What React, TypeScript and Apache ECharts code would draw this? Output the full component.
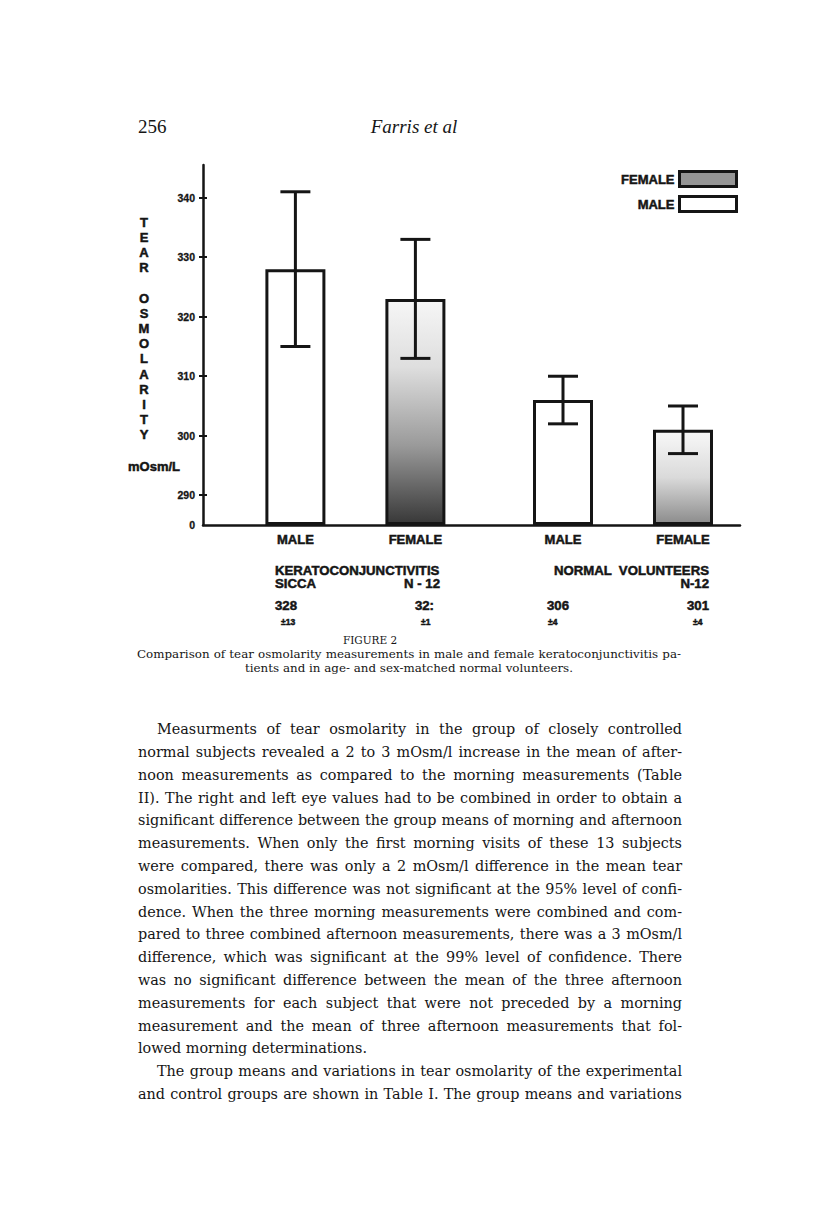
import React, { useEffect, useRef } from 'react';
import * as echarts from 'echarts';

// ---------------- data ----------------
const sexLabels = ['MALE', 'FEMALE'];
const maleMeans = [328, 306];
const maleErrors = [13, 4];
const femaleMeans = [323, 301];
const femaleErrors = [10, 4];
const yTickValues = [290, 300, 310, 320, 330, 340];
const yBreakValue = 285;
const yBreakLabel = '0';
const meanLabels = ['328', '32:', '306', '301'];
const errorLabels = ['±13', '±1', '±4', '±4'];
const groupTitles = ['KERATOCONJUNCTIVITIS', 'NORMAL  VOLUNTEERS'];
const groupSubtitle = 'SICCA';
const nLabels = ['N - 12', 'N-12'];
const axisTitle = 'TEAR OSMOLARITY';
const unitLabel = 'mOsm/L';
const pageNumber = '256';
const runningHead = 'Farris et al';
const figureLabel = 'FIGURE 2';
const captionLines = [
  'Comparison of tear osmolarity measurements in male and female keratoconjunctivitis pa-',
  'tients and in age- and sex-matched normal volunteers.',
];
const bodyLines = [
  'Measurments of tear osmolarity in the group of closely controlled',
  'normal subjects revealed a 2 to 3 mOsm/l increase in the mean of after-',
  'noon measurements as compared to the morning measurements (Table',
  'II). The right and left eye values had to be combined in order to obtain a',
  'significant difference between the group means of morning and afternoon',
  'measurements. When only the first morning visits of these 13 subjects',
  'were compared, there was only a 2 mOsm/l difference in the mean tear',
  'osmolarities. This difference was not significant at the 95% level of confi-',
  'dence. When the three morning measurements were combined and com-',
  'pared to three combined afternoon measurements, there was a 3 mOsm/l',
  'difference, which was significant at the 99% level of confidence. There',
  'was no significant difference between the mean of the three afternoon',
  'measurements for each subject that were not preceded by a morning',
  'measurement and the mean of three afternoon measurements that fol-',
  'lowed morning determinations.',
  'The group means and variations in tear osmolarity of the experimental',
  'and control groups are shown in Table I. The group means and variations',
];
const indentedLines = [0, 15];
const paragraphEndLines = [14];

// ---------------- layout ----------------
const SLOT_X = [0.77, 1.77, 3.0, 4.0];
const X_MAX = 4.475;
const Y_MAX = 345.5;
const SANS = '"Liberation Sans", Arial, Helvetica, sans-serif';
const SERIF = '"DejaVu Serif", "Liberation Serif", serif';
const HEAD_SERIF = '"Liberation Serif", "Times New Roman", serif';
const INK = '#151515';
const HEAVY = 0.5;

function measureFactory() {
  const c = document.createElement('canvas');
  const ctx = c.getContext('2d') as CanvasRenderingContext2D;
  return (t: string, size: number, family: string, style = '') => {
    ctx.font = `${style} ${size}px ${family}`;
    return ctx.measureText(t).width;
  };
}

function txt(x: number, baseline: number, text: string, size: number, family: string, opts: any = {}) {
  const style: any = {
    text,
    fontSize: size,
    fontFamily: family,
    fontWeight: opts.weight || 'normal',
    fontStyle: opts.style || 'normal',
    fill: INK,
    textAlign: opts.align || 'left',
    align: opts.align || 'left',
    textVerticalAlign: 'middle',
    verticalAlign: 'middle',
  };
  if (opts.heavy) {
    style.stroke = INK;
    style.lineWidth = opts.heavy;
  }
  return { type: 'text', x, y: baseline - 0.34 * size, silent: true, style };
}

function buildBody(measure: any) {
  const LEFT = 138, RIGHT = 682, INDENT = 19, TOP = 734, LEAD = 22.8;
  let fs = 100;
  bodyLines.forEach((line, i) => {
    if (paragraphEndLines.includes(i)) return;
    const avail = RIGHT - LEFT - (indentedLines.includes(i) ? INDENT : 0);
    const nat = measure(line, 100, SERIF) / 100;
    fs = Math.min(fs, avail / nat);
  });
  fs = fs * 0.995;
  const els: any[] = [];
  const space = measure(' ', fs, SERIF);
  bodyLines.forEach((line, i) => {
    const x0 = LEFT + (indentedLines.includes(i) ? INDENT : 0);
    const avail = RIGHT - x0;
    const words = line.split(' ');
    const ws = words.map((w) => measure(w, fs, SERIF));
    const sum = ws.reduce((a, b) => a + b, 0);
    const gap = paragraphEndLines.includes(i) || words.length < 2 ? space : (avail - sum) / (words.length - 1);
    let x = x0;
    const base = TOP + i * LEAD;
    words.forEach((w, k) => {
      els.push(txt(x, base, w, fs, SERIF));
      x += ws[k] + gap;
    });
  });
  return els;
}

function buildCaption(measure: any) {
  const LEFT = 137, RIGHT = 681;
  const nat = measure(captionLines[0], 100, SERIF) / 100;
  const fs = ((RIGHT - LEFT) / nat) * 0.995;
  const els: any[] = [];
  const words = captionLines[0].split(' ');
  const ws = words.map((w) => measure(w, fs, SERIF));
  const sum = ws.reduce((a, b) => a + b, 0);
  const gap = (RIGHT - LEFT - sum) / (words.length - 1);
  let x = LEFT;
  words.forEach((w, k) => {
    els.push(txt(x, 658, w, fs, SERIF));
    x += ws[k] + gap;
  });
  els.push(txt(409, 672, captionLines[1], fs, SERIF, { align: 'center' }));
  els.push(txt(370, 644, figureLabel, 10.5, SERIF, { align: 'center' }));
  return els;
}

function buildChartTexts() {
  const els: any[] = [];
  const b = (x: number, base: number, t: string, size: number, align = 'left') =>
    els.push(txt(x, base, t, size, SANS, { weight: 'bold', align, heavy: HEAVY }));
  // axis title, stacked letters
  axisTitle.split('').forEach((ch, i) => {
    if (ch === ' ') return;
    els.push(txt(144, 222 + i * 15.2 + 4.5, ch, 13, SANS, { weight: 'bold', align: 'center', heavy: HEAVY }));
  });
  b(154, 471, unitLabel, 13, 'center');
  // group annotation block under the bars
  b(275, 575, groupTitles[0], 13.2);
  b(275, 588, groupSubtitle, 13.2);
  b(440, 588, nLabels[0], 13.2, 'right');
  b(709, 575, groupTitles[1], 13.2, 'right');
  b(709, 588, nLabels[1], 13.2, 'right');
  b(275, 610, meanLabels[0], 13.2);
  b(434, 610, meanLabels[1], 13.2, 'right');
  b(547, 610, meanLabels[2], 13.2);
  b(709, 610, meanLabels[3], 13.2, 'right');
  b(281, 625, errorLabels[0], 8.5);
  b(421, 625, errorLabels[1], 8.5);
  b(548, 625, errorLabels[2], 8.5);
  b(693, 625, errorLabels[3], 8.5);
  return els;
}

const femaleFill = [
  new echarts.graphic.LinearGradient(0, 0, 0, 1, [
    { offset: 0, color: '#f6f6f6' },
    { offset: 0.3, color: '#dedede' },
    { offset: 0.65, color: '#9a9a9a' },
    { offset: 1, color: '#383838' },
  ]),
  new echarts.graphic.LinearGradient(0, 0, 0, 1, [
    { offset: 0, color: '#f8f8f8' },
    { offset: 0.5, color: '#dadada' },
    { offset: 1, color: '#8c8c8c' },
  ]),
];

export default function App() {
  const ref = useRef<HTMLDivElement>(null);
  useEffect(() => {
    document.body.style.margin = '0';
    const chart = echarts.init(ref.current as HTMLDivElement, null, { renderer: 'svg' });
    const measure = measureFactory();
    const errorData = [0, 1].flatMap((g) => [
      [SLOT_X[g * 2], maleMeans[g], maleErrors[g]],
      [SLOT_X[g * 2 + 1], femaleMeans[g], femaleErrors[g]],
    ]);
    const barStyle = { borderColor: INK, borderWidth: 3 };
    const heavyText = { textBorderColor: INK, textBorderWidth: HEAVY };
    const option: any = {
      animation: false,
      backgroundColor: '#ffffff',
      grid: { left: 203, top: 165, width: 537, height: 360 },
      legend: {
        data: [
          { name: 'FEMALE', itemStyle: { color: '#959595', borderColor: INK, borderWidth: 3 } },
          { name: 'MALE', itemStyle: { color: '#ffffff', borderColor: INK, borderWidth: 3 } },
        ],
        orient: 'vertical',
        right: 78,
        top: 170,
        padding: 0,
        itemWidth: 57,
        itemHeight: 15,
        itemGap: 7,
        align: 'right',
        icon: 'rect',
        selectedMode: false,
        textStyle: { fontFamily: SANS, fontWeight: 'bold', fontSize: 13, color: INK, ...heavyText },
      },
      xAxis: {
        type: 'value',
        min: 0,
        max: X_MAX,
        splitLine: { show: false },
        axisLine: { show: true, onZero: false, lineStyle: { color: INK, width: 2.5 } },
        axisTick: { show: false },
        axisLabel: {
          customValues: SLOT_X,
          formatter: (v: number) => {
            const i = SLOT_X.findIndex((s) => Math.abs(s - v) < 1e-6);
            return i < 0 ? '' : sexLabels[i % 2];
          },
          fontFamily: SANS,
          fontWeight: 'bold',
          fontSize: 13,
          color: INK,
          margin: 8,
          ...heavyText,
        },
      },
      yAxis: [
        {
          type: 'value',
          min: yBreakValue,
          max: Y_MAX,
          startValue: yBreakValue,
          splitLine: { show: false },
          axisLine: { show: true, onZero: false, lineStyle: { color: INK, width: 2.5 } },
          axisTick: { show: true, customValues: yTickValues, length: 4, lineStyle: { color: INK, width: 2 } },
          axisLabel: {
            customValues: [yBreakValue, ...yTickValues],
            formatter: (v: number) => (Math.abs(v - yBreakValue) < 1e-6 ? yBreakLabel : String(v)),
            fontFamily: SANS,
            fontWeight: 'bold',
            fontSize: 10.5,
            color: INK,
            margin: 8,
            textBorderColor: INK,
            textBorderWidth: 0.3,
          },
        },
        {
          type: 'value',
          min: yBreakValue,
          max: Y_MAX,
          position: 'left',
          splitLine: { show: false },
          axisLine: { show: false },
          axisTick: { show: true, inside: true, customValues: yTickValues, length: 4, lineStyle: { color: INK, width: 2 } },
          axisLabel: { show: false },
        },
      ],
      series: [
        {
          name: 'MALE',
          type: 'bar',
          barWidth: 60,
          barGap: '-100%',
          itemStyle: { color: '#ffffff', ...barStyle },
          data: maleMeans.map((v, g) => [SLOT_X[g * 2], v]),
          z: 2,
        },
        {
          name: 'FEMALE',
          type: 'bar',
          barWidth: 60,
          barGap: '-100%',
          itemStyle: { color: '#8e8e8e', ...barStyle },
          data: femaleMeans.map((v, g) => ({ value: [SLOT_X[g * 2 + 1], v], itemStyle: { color: femaleFill[g] } })),
          z: 2,
        },
        {
          name: 'error',
          type: 'custom',
          z: 5,
          clip: false,
          encode: { x: 0, y: 1 },
          data: errorData,
          renderItem: (params: any, api: any) => {
            const x = api.value(0), m = api.value(1), e = api.value(2);
            const pt = api.coord([x, m + e]);
            const pb = api.coord([x, m - e]);
            const hw = 15;
            const style = { stroke: INK, lineWidth: 3, fill: null };
            return {
              type: 'group',
              children: [
                { type: 'line', shape: { x1: pt[0], y1: pt[1], x2: pb[0], y2: pb[1] }, style },
                { type: 'line', shape: { x1: pt[0] - hw, y1: pt[1], x2: pt[0] + hw, y2: pt[1] }, style },
                { type: 'line', shape: { x1: pb[0] - hw, y1: pb[1], x2: pb[0] + hw, y2: pb[1] }, style },
              ],
            };
          },
        },
      ],
      graphic: {
        elements: [
          txt(138, 133, pageNumber, 19, HEAD_SERIF),
          txt(414, 133, runningHead, 19, HEAD_SERIF, { style: 'italic', align: 'center' }),
          ...buildChartTexts(),
          ...buildCaption(measure),
          ...buildBody(measure),
        ],
      },
    };
    chart.setOption(option);
    return () => chart.dispose();
  }, []);
  return (
    <div
      ref={ref}
      style={{ position: 'absolute', left: 0, top: 0, width: 816, height: 1229, background: '#fff' }}
    />
  );
}
